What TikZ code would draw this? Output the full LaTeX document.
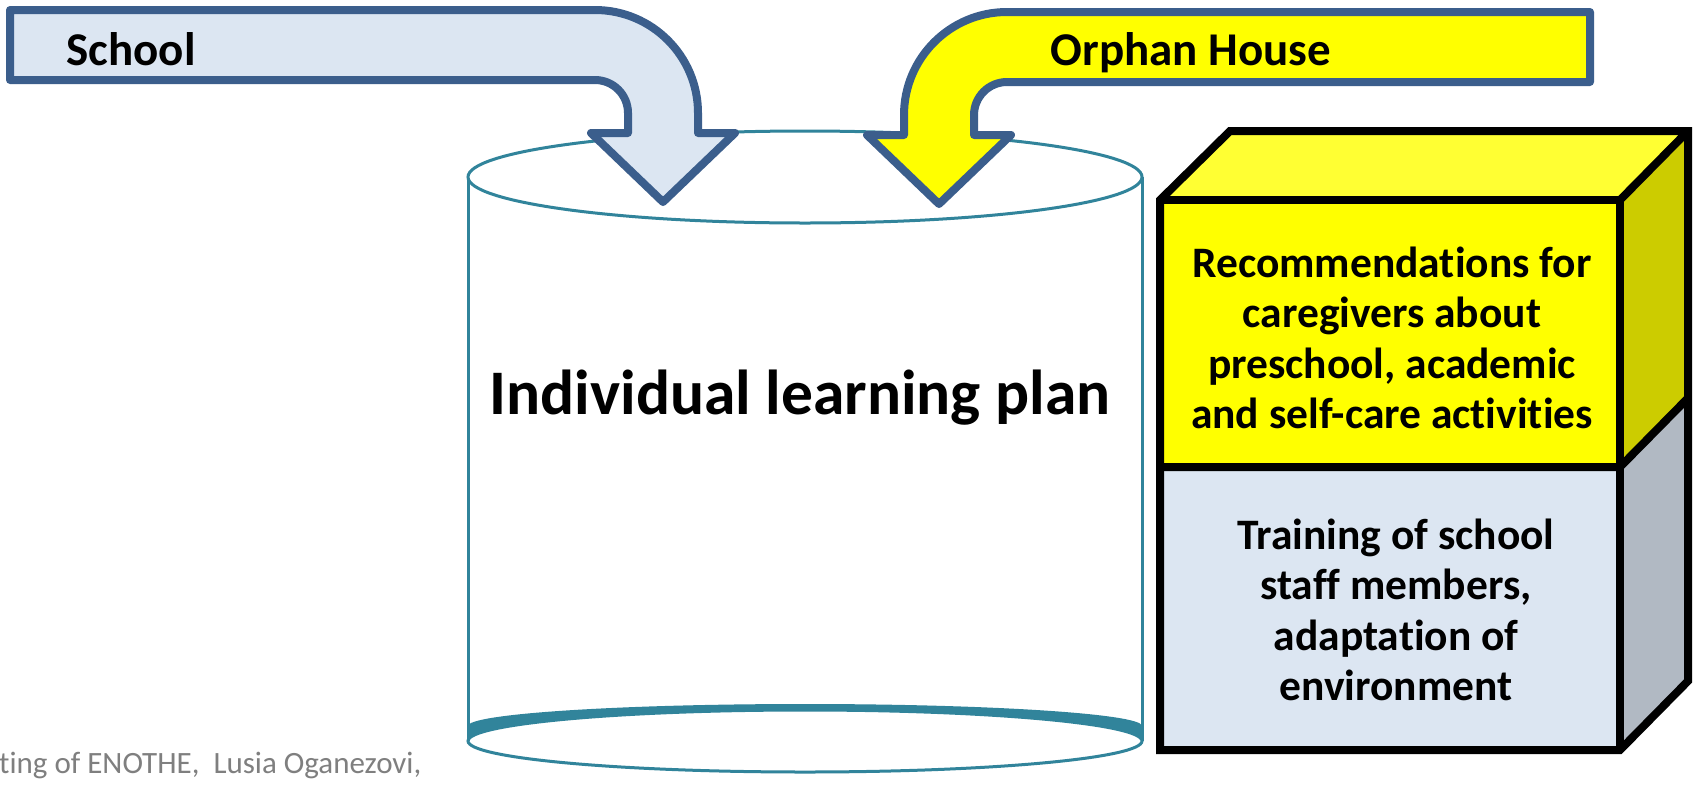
\documentclass[tikz,border=0pt]{standalone}
\usepackage{fontspec}
\setmainfont{Carlito}[Ligatures={NoCommon}]
\definecolor{arrowblue}{HTML}{3B5E8C}
\definecolor{paleblue}{HTML}{DCE6F2}
\definecolor{cyl}{HTML}{31849B}
\definecolor{pureyellow}{HTML}{FFFF00}
\definecolor{topyellow}{HTML}{FFFF33}
\definecolor{sideyellow}{HTML}{CCCC00}
\definecolor{sidegray}{HTML}{B1B9C3}
\definecolor{footgray}{HTML}{7F7F7F}
\tikzset{
  bentarrow/.style={draw=arrowblue, line width=8pt, line join=round},
  cylline/.style={draw=cyl, line width=3pt},
  boxline/.style={draw=black, line width=8pt, line join=miter},
  arrowlabel/.style={font=\fontsize{47}{56}\selectfont\bfseries, anchor=base, inner sep=0pt},
  boxtext/.style={font=\fontsize{43.5}{50.5}\selectfont\bfseries, align=center, inner sep=0pt},
}
\begin{document}
\begin{tikzpicture}[x=1pt,y=1pt]
\fill[white] (0,0) rectangle (1696,-785);
\useasboundingbox (0,0) rectangle (1696,-785);

% cylinder
\draw[cylline] (468,-177) -- (468,-741);
\draw[cylline] (1142,-177) -- (1142,-741);
\fill[cyl] (468,-741) arc[start angle=180,end angle=0,x radius=337,y radius=31]
  -- (1142,-726) arc[start angle=0,end angle=180,x radius=337,y radius=22] -- cycle;
\draw[cylline] (805,-741) ellipse[x radius=337,y radius=31];
\draw[cylline,fill=white] (805,-177) ellipse[x radius=337,y radius=46];
\node[font=\fontsize{63.5}{76}\selectfont\bfseries, anchor=base, inner sep=0pt] (plan) at (800,-414) {Individual learning plan};

% School arrow
\draw[bentarrow, fill=paleblue] (10,-10) -- (595,-10)
  arc[start angle=90,end angle=0,radius=103] -- (698,-133) -- (735,-133)
  -- (663,-202) -- (591,-133) -- (628,-133) -- (628,-113)
  arc[start angle=0,end angle=90,radius=33] -- (10,-80) -- cycle;
\node[arrowlabel] (school) at (131,-65) {School};

% Orphan House arrow
\draw[bentarrow, fill=pureyellow] (1590,-12) -- (1007,-12)
  arc[start angle=90,end angle=180,radius=103] -- (904,-135) -- (867,-135)
  -- (939,-204) -- (1011,-135) -- (974,-135) -- (974,-115)
  arc[start angle=180,end angle=90,radius=33] -- (1590,-82) -- cycle;
\node[arrowlabel] (orphan) at (1191,-65) {Orphan House};

% stacked cubes
\fill[topyellow] (1160,-200) -- (1230,-131) -- (1688,-131) -- (1620,-200) -- cycle;
\fill[pureyellow] (1160,-200) rectangle (1620,-467);
\fill[sideyellow] (1620,-200) -- (1688,-131) -- (1688,-398) -- (1620,-467) -- cycle;
\fill[paleblue] (1160,-467) rectangle (1620,-750);
\fill[sidegray] (1620,-467) -- (1688,-398) -- (1688,-681) -- (1620,-750) -- cycle;
\draw[boxline] (1160,-200) -- (1230,-131) -- (1688,-131) -- (1688,-681) -- (1620,-750) -- (1160,-750) -- cycle;
\draw[boxline] (1160,-200) -- (1620,-200) -- (1620,-750);
\draw[boxline] (1620,-200) -- (1688,-131);
\draw[boxline] (1160,-467) -- (1620,-467) -- (1688,-398);
\node[boxtext] (recs) at (1392,-338) {Recommendations for\\caregivers about\\preschool, academic\\and self-care activities};
\node[boxtext] (train) at (1396,-610) {Training of school\\staff members,\\adaptation of\\environment};

% footer
\node[font=\fontsize{31}{37}\selectfont, text=footgray, anchor=base west, inner sep=0pt] (foot) at (-1,-773) {ting of ENOTHE,~ Lusia Oganezovi,};
\end{tikzpicture}
\end{document}
